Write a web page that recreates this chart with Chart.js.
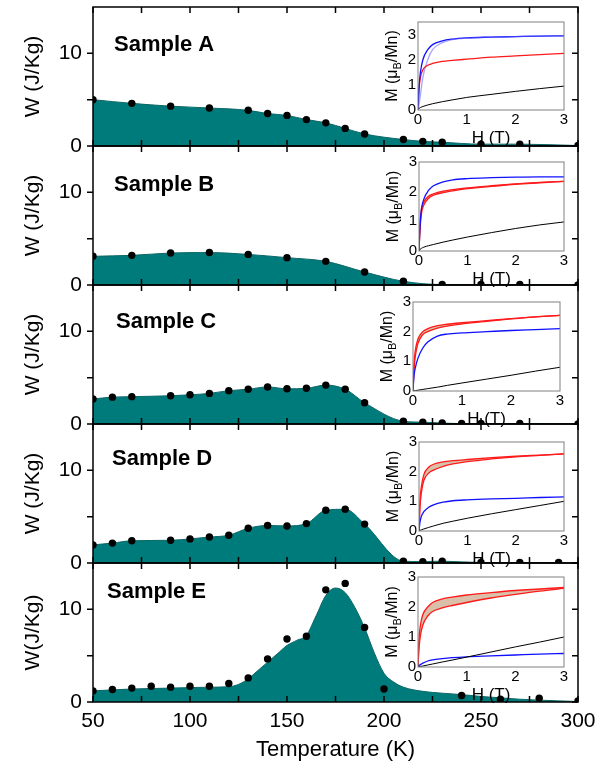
<!DOCTYPE html>
<html>
<head>
<meta charset="utf-8">
<script src="https://cdn.jsdelivr.net/npm/chart.js@4.4.1/dist/chart.umd.min.js"></script>
<style>
  html, body { margin: 0; padding: 0; background: #fff; }
  #fig { position: relative; width: 608px; height: 768px; overflow: hidden; }
  #fig canvas { position: absolute; }
</style>
</head>
<body>
<div id="fig"></div>
<script>
// ---- data ----
const sampleNames = ['Sample A', 'Sample B', 'Sample C', 'Sample D', 'Sample E'];
const yTitles = ['W (J/Kg)', 'W (J/Kg)', 'W (J/Kg)', 'W (J/Kg)', 'W(J/Kg)'];
const tempTicks = [50, 100, 150, 200, 250, 300];
const wTicks = [0, 10];
const mTicks = [0, 1, 2, 3];
const hTicks = [0, 1, 2, 3];

const tempA = [50, 70, 90, 110, 130, 140, 150, 160, 170, 180, 190, 210, 220, 230, 250, 270, 300];
const wA    = [5.0, 4.6, 4.3, 4.1, 3.85, 3.5, 3.3, 2.85, 2.5, 1.9, 1.3, 0.7, 0.5, 0.4, 0.2, 0.2, 0.05];

const tempB = [50, 70, 90, 110, 130, 150, 170, 190, 210, 230, 250, 270, 300];
const wB    = [3.1, 3.2, 3.45, 3.5, 3.3, 2.95, 2.55, 1.4, 0.4, 0.05, 0.05, 0.05, 0];

const tempC = [50, 60, 70, 90, 100, 110, 120, 130, 140, 150, 160, 170, 180, 190, 210, 220, 230, 240, 250, 270, 300];
const wC    = [2.7, 2.9, 2.95, 3.05, 3.15, 3.3, 3.6, 3.75, 4.0, 3.8, 3.85, 4.2, 3.75, 2.3, 0.3, 0.2, 0.1, 0.05, 0.05, 0.05, 0];

const tempD = [50, 60, 70, 90, 100, 110, 120, 130, 140, 150, 160, 170, 180, 190, 210, 220, 230, 250, 270, 290];
const wD    = [1.95, 2.15, 2.4, 2.45, 2.6, 2.8, 3.0, 3.75, 4.05, 4.0, 4.25, 5.7, 5.8, 4.2, 0.2, 0.15, 0.2, 0.05, 0.05, 0.05];

const tempE = [50, 60, 70, 80, 90, 100, 110, 120, 130, 140, 150, 160, 170, 180, 190, 200, 240, 260, 280, 300];
const wE    = [1.2, 1.35, 1.5, 1.7, 1.6, 1.7, 1.7, 2.0, 2.6, 4.65, 6.8, 7.1, 12.1, 12.8, 8.05, 1.4, 0.7, 0.3, 0.4, 0.1];

// smooth curve under sample E (drawn separately from its points)
const fitTempE = [50, 70, 90, 110, 120, 125, 130, 135, 140, 145, 150, 155, 160, 165, 170, 175, 180, 185, 190, 195, 200, 205, 210, 220, 230, 240, 250, 260, 270, 280, 300];
const fitWE    = [1.2, 1.4, 1.5, 1.6, 1.65, 1.9, 2.5, 3.4, 4.3, 5.2, 6.1, 6.65, 7.2, 9.3, 11.5, 12.3, 11.8, 10.2, 8.0, 5.3, 3.1, 2.15, 1.6, 1.15, 0.95, 0.8, 0.6, 0.45, 0.3, 0.2, 0.05];

// insets: M (muB/Mn) vs H (T)
const fieldH = [0, 0.02, 0.05, 0.1, 0.2, 0.3, 0.5, 0.7, 1, 1.5, 2, 2.5, 3];

const mA_black  = [0, 0.06, 0.1, 0.14, 0.2, 0.25, 0.33, 0.4, 0.5, 0.62, 0.74, 0.85, 0.95];
const mA_blueUp = [0, 0.2, 0.6, 1.3, 2.0, 2.4, 2.68, 2.8, 2.86, 2.9, 2.92, 2.94, 2.95];
const mA_blue   = [0, 0.9, 1.5, 2.0, 2.4, 2.6, 2.75, 2.82, 2.87, 2.9, 2.92, 2.94, 2.95];
const mA_red    = [0, 0.8, 1.3, 1.6, 1.78, 1.85, 1.93, 1.97, 2.02, 2.1, 2.15, 2.2, 2.25];

const mB_black   = [0, 0.05, 0.09, 0.13, 0.18, 0.22, 0.3, 0.37, 0.47, 0.62, 0.76, 0.88, 0.98];
const mB_blue    = [0, 0.8, 1.4, 1.75, 2.05, 2.2, 2.33, 2.4, 2.44, 2.47, 2.49, 2.5, 2.5];
const mB_redUp   = [0, 0.9, 1.4, 1.65, 1.85, 1.93, 2.02, 2.07, 2.13, 2.2, 2.26, 2.31, 2.35];
const mB_redDown = [0, 0.7, 1.25, 1.55, 1.78, 1.88, 1.97, 2.03, 2.1, 2.18, 2.25, 2.3, 2.35];

const mC_black   = [0, 0.005, 0.013, 0.027, 0.053, 0.08, 0.13, 0.19, 0.27, 0.4, 0.53, 0.67, 0.8];
const mC_blue    = [0, 0.5, 0.8, 1.1, 1.45, 1.65, 1.85, 1.92, 1.96, 2.0, 2.04, 2.07, 2.1];
const mC_redUp   = [0, 0.9, 1.4, 1.75, 2.0, 2.1, 2.2, 2.25, 2.3, 2.37, 2.44, 2.5, 2.55];
const mC_redDown = [0, 0.7, 1.2, 1.6, 1.9, 2.0, 2.12, 2.19, 2.26, 2.35, 2.43, 2.5, 2.55];

const mD_black   = [0, 0.02, 0.04, 0.07, 0.12, 0.17, 0.26, 0.33, 0.43, 0.58, 0.72, 0.86, 1.0];
const mD_blue    = [0, 0.3, 0.5, 0.65, 0.8, 0.88, 0.97, 1.02, 1.05, 1.08, 1.1, 1.13, 1.15];
const mD_redUp   = [0, 1.0, 1.5, 1.9, 2.15, 2.25, 2.33, 2.37, 2.41, 2.47, 2.52, 2.56, 2.6];
const mD_redDown = [0, 0.8, 1.3, 1.7, 1.95, 2.05, 2.18, 2.26, 2.34, 2.43, 2.5, 2.55, 2.6];

const mE_black   = [0, 0.007, 0.017, 0.033, 0.067, 0.1, 0.167, 0.23, 0.33, 0.5, 0.67, 0.83, 1.0];
const mE_blue    = [0, 0.05, 0.08, 0.13, 0.2, 0.24, 0.28, 0.31, 0.34, 0.37, 0.4, 0.43, 0.45];
const mE_redUp   = [0, 0.9, 1.4, 1.75, 2.0, 2.15, 2.27, 2.33, 2.4, 2.48, 2.55, 2.6, 2.65];
const mE_redDown = [0, 0.6, 1.05, 1.4, 1.7, 1.85, 1.97, 2.05, 2.15, 2.3, 2.42, 2.53, 2.62];

// ---- layout / style ----
const FONT = '"Liberation Sans", Arial, sans-serif';
const TEAL = '#007b7b';
const BLUE = '#1010ff', BLUE_LIGHT = 'rgba(90,90,255,0.55)', RED = '#ff1a1a', BAND = 'rgba(205,170,140,0.75)';
const panelTop = [7, 146, 285, 424, 563];
const PANEL_H = 139;
const FRAME_L = 93, FRAME_R = 578;
const labelPos = [[21, 38], [21, 39], [23, 37], [19, 35], [14, 29]];
const insetBoxes = [
  { l: 418, r: 564, t: 22, b: 110, ymax: 3.5 },
  { l: 419, r: 564, t: 162, b: 251, ymax: 3 },
  { l: 413, r: 560, t: 302, b: 391, ymax: 3 },
  { l: 419, r: 564, t: 442, b: 531, ymax: 3 },
  { l: 418, r: 564, t: 577, b: 667, ymax: 3 }
];

const pts = (xs, ys) => xs.map((x, i) => ({ x: x, y: ys[i] }));
const noPad = s => { s.paddingTop = 0; s.paddingBottom = 0; s.paddingLeft = 0; s.paddingRight = 0; };

const framePlugin = {
  id: 'frame',
  beforeDatasetsDraw(chart, args, o) {
    if (!o.bg) return;
    const a = chart.chartArea, ctx = chart.ctx;
    ctx.save();
    ctx.fillStyle = o.bg;
    ctx.fillRect(a.left, a.top, a.right - a.left, a.bottom - a.top);
    ctx.restore();
  },
  afterDatasetsDraw(chart, args, o) {
    const a = chart.chartArea, ctx = chart.ctx, sx = chart.scales.x, sy = chart.scales.y;
    ctx.save();
    ctx.strokeStyle = o.color;
    ctx.lineWidth = o.width;
    ctx.strokeRect(a.left, a.top, a.right - a.left, a.bottom - a.top);
    const len = o.tickLen || 0;
    (o.xTicks || []).forEach(v => {
      const px = sx.getPixelForValue(v);
      ctx.beginPath();
      ctx.moveTo(px, a.bottom); ctx.lineTo(px, a.bottom - len);
      ctx.moveTo(px, a.top); ctx.lineTo(px, a.top + len);
      ctx.stroke();
    });
    (o.yTicks || []).forEach(v => {
      const py = sy.getPixelForValue(v);
      ctx.beginPath();
      ctx.moveTo(a.left - len, py); ctx.lineTo(a.left, py);
      ctx.moveTo(a.right - len, py); ctx.lineTo(a.right, py);
      ctx.stroke();
    });
    if (o.label) {
      ctx.fillStyle = '#000';
      ctx.font = 'bold 22px ' + FONT;
      ctx.textBaseline = 'middle';
      ctx.fillText(o.label, a.left + o.labelDx, a.top + o.labelDy);
    }
    if (o.mLabel) {
      // M (mu_B/Mn), rotated, with subscript B
      ctx.translate(a.left - 25, (a.top + a.bottom) / 2);
      ctx.rotate(-Math.PI / 2);
      ctx.fillStyle = '#000';
      ctx.textBaseline = 'middle';
      const parts = [['M (\u03bc', '16px ' + FONT, 0], ['B', '11px ' + FONT, 5], ['/Mn)', '16px ' + FONT, 0]];
      let total = 0;
      parts.forEach(p => { ctx.font = p[1]; total += ctx.measureText(p[0]).width; });
      let x = -total / 2;
      parts.forEach(p => { ctx.font = p[1]; ctx.fillText(p[0], x, p[2]); x += ctx.measureText(p[0]).width; });
    }
    ctx.restore();
  }
};
Chart.register(framePlugin);

const fig = document.getElementById('fig');
function addCanvas(left, top, w, h) {
  const c = document.createElement('canvas');
  c.width = w; c.height = h;
  c.style.left = left + 'px'; c.style.top = top + 'px';
  c.style.width = w + 'px'; c.style.height = h + 'px';
  fig.appendChild(c);
  return c;
}

const minorT = [];
for (let t = 50; t <= 300; t += 25) minorT.push(t);

function makePanel(i, dotsT, dotsW, fillT, fillW) {
  const bottom = i === 4;
  const top = panelTop[i] - 7;
  const h = bottom ? 768 - top : PANEL_H + 14;
  const canvas = addCanvas(0, top, 608, h);
  new Chart(canvas, {
    type: 'scatter',
    data: {
      datasets: [
        { data: pts(dotsT, dotsW), pointRadius: 3.7, pointBackgroundColor: '#000', pointBorderWidth: 0, showLine: false },
        { data: pts(fillT, fillW), showLine: true, fill: 'origin', backgroundColor: TEAL, borderColor: '#0b6666',
          borderWidth: 1, pointRadius: 0, tension: 0.35, cubicInterpolationMode: 'monotone' }
      ]
    },
    options: {
      responsive: false, animation: false, devicePixelRatio: 1,
      layout: { padding: { top: 7, right: 608 - FRAME_R, bottom: bottom ? 0 : 7, left: 0 } },
      plugins: {
        legend: { display: false }, tooltip: { enabled: false },
        frame: { color: '#000', width: 1.5, tickLen: 6, xTicks: minorT, yTicks: [0, 5, 10],
                 label: sampleNames[i], labelDx: labelPos[i][0], labelDy: labelPos[i][1] }
      },
      scales: {
        x: {
          type: 'linear', min: 50, max: 300, display: bottom,
          grid: { display: false, drawTicks: false }, border: { display: false },
          afterBuildTicks: s => { s.ticks = tempTicks.map(v => ({ value: v })); },
          afterFit: s => { noPad(s); if (bottom) s.height = 768 - (panelTop[4] + PANEL_H); },
          ticks: { color: '#000', font: { size: 21, family: FONT }, padding: 7, maxRotation: 0, autoSkip: false },
          title: { display: true, text: 'Temperature (K)', color: '#000', font: { size: 22, family: FONT }, padding: { top: 0, bottom: 5 } }
        },
        y: {
          min: 0, max: 15,
          grid: { display: false, drawTicks: false }, border: { display: false },
          afterBuildTicks: s => { s.ticks = wTicks.map(v => ({ value: v })); },
          afterFit: s => { noPad(s); s.width = FRAME_L; },
          ticks: { color: '#000', font: { size: 21, family: FONT }, padding: 11 },
          title: { display: true, text: yTitles[i], color: '#000', font: { size: 21, family: FONT }, padding: { top: 21, bottom: 0 } }
        }
      }
    }
  });
}

function makeInset(i, curves) {
  const g = insetBoxes[i];
  const cl = 370, cw = 215;
  const top = g.t - 8;
  const h = g.b - g.t + 8 + 42;
  const canvas = addCanvas(cl, top, cw, h);
  const datasets = curves.map(c => ({
    data: pts(fieldH, c.m), showLine: true, borderColor: c.color, borderWidth: c.w || 1.3,
    pointRadius: 0, tension: 0.3, cubicInterpolationMode: 'monotone',
    fill: c.band ? { target: '-1' } : false, backgroundColor: c.band ? BAND : 'transparent'
  }));
  new Chart(canvas, {
    type: 'scatter',
    data: { datasets: datasets },
    options: {
      responsive: false, animation: false, devicePixelRatio: 1,
      layout: { padding: { top: 8, right: cl + cw - g.r, bottom: 0, left: 0 } },
      plugins: {
        legend: { display: false }, tooltip: { enabled: false },
        frame: { color: '#808080', width: 1, tickLen: 0, bg: '#fff', mLabel: true }
      },
      scales: {
        x: {
          type: 'linear', min: 0, max: 3,
          grid: { display: false, drawTicks: false }, border: { display: false },
          afterBuildTicks: s => { s.ticks = hTicks.map(v => ({ value: v })); },
          afterFit: s => { noPad(s); s.height = 42; },
          ticks: { color: '#000', font: { size: 15, family: FONT }, padding: 1, maxRotation: 0, autoSkip: false },
          title: { display: true, text: 'H (T)', color: '#000', font: { size: 17, family: FONT }, padding: { top: 0, bottom: 3 } }
        },
        y: {
          min: 0, max: g.ymax,
          grid: { display: false, drawTicks: false }, border: { display: false },
          afterBuildTicks: s => { s.ticks = mTicks.map(v => ({ value: v })); },
          afterFit: s => { noPad(s); s.width = g.l - cl; },
          ticks: { color: '#000', font: { size: 15, family: FONT }, padding: 2 }
        }
      }
    }
  });
}

makePanel(0, tempA, wA, tempA, wA);
makePanel(1, tempB, wB, tempB, wB);
makePanel(2, tempC, wC, tempC, wC);
makePanel(3, tempD, wD, tempD, wD);
makePanel(4, tempE, wE, fitTempE, fitWE);

makeInset(0, [
  { m: mA_black, color: '#000', w: 1 },
  { m: mA_blueUp, color: BLUE_LIGHT },
  { m: mA_blue, color: BLUE },
  { m: mA_red, color: RED }
]);
makeInset(1, [
  { m: mB_black, color: '#000', w: 1 },
  { m: mB_blue, color: BLUE },
  { m: mB_redUp, color: RED },
  { m: mB_redDown, color: RED, band: true }
]);
makeInset(2, [
  { m: mC_black, color: '#000', w: 1 },
  { m: mC_blue, color: BLUE },
  { m: mC_redUp, color: RED },
  { m: mC_redDown, color: RED, band: true }
]);
makeInset(3, [
  { m: mD_black, color: '#000', w: 1 },
  { m: mD_blue, color: BLUE },
  { m: mD_redUp, color: RED },
  { m: mD_redDown, color: RED, band: true }
]);
makeInset(4, [
  { m: mE_black, color: '#000', w: 1 },
  { m: mE_blue, color: BLUE },
  { m: mE_redUp, color: RED },
  { m: mE_redDown, color: RED, band: true }
]);
</script>
</body>
</html>
